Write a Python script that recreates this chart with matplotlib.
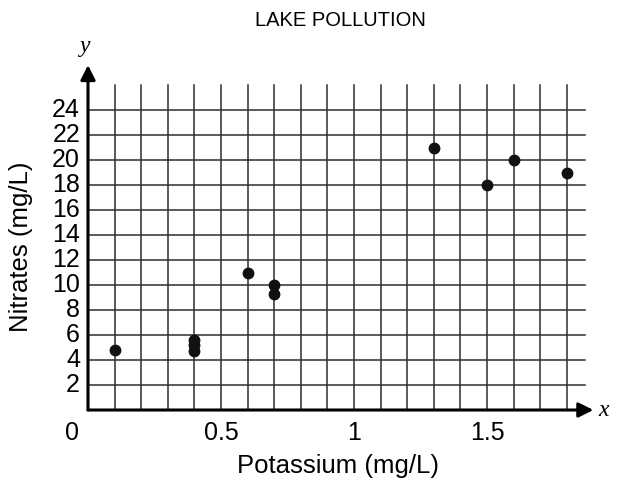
import matplotlib
matplotlib.use("Agg")
import matplotlib.pyplot as plt

potassium = [0.1, 0.4, 0.4, 0.4, 0.6, 0.7, 0.7, 1.3, 1.5, 1.6, 1.8]
nitrates = [4.8, 5.6, 5.2, 4.7, 11.0, 10.0, 9.3, 21.0, 18.0, 20.0, 19.0]
x_ticks = [0.5, 1.0, 1.5]
x_tick_labels = ["0.5", "1", "1.5"]
y_ticks = list(range(2, 25, 2))

plt.rcParams['font.family'] = ['Liberation Sans', 'DejaVu Sans']

W, H = 622, 480
fig = plt.figure(figsize=(W / 100, H / 100), dpi=100)
x0px, y0px = 88, 410
px_per_x = 266.0
px_per_y = 12.5
xmax, ymax = 1.95, 28.0
ax = fig.add_axes([x0px / W, (H - y0px) / H, xmax * px_per_x / W, ymax * px_per_y / H])
ax.set_xlim(0, xmax)
ax.set_ylim(0, ymax)
ax.axis('off')

gc = '#2e2e2e'
# vertical grid lines every 0.1
for i in range(1, 19):
    ax.plot([i / 10, i / 10], [0, 26], color=gc, lw=1.1, zorder=1)
# horizontal grid lines every 2
for yv in y_ticks:
    ax.plot([0, 1.87], [yv, yv], color=gc, lw=1.1, zorder=1)

# axes with arrows
ax.annotate('', xy=(1.90, 0), xytext=(0, 0),
            arrowprops=dict(arrowstyle='-|>', lw=2.2, color='black', mutation_scale=22,
                            shrinkA=0, shrinkB=0), annotation_clip=False, zorder=3)
ax.annotate('', xy=(0, 27.6), xytext=(0, 0),
            arrowprops=dict(arrowstyle='-|>', lw=2.2, color='black', mutation_scale=22,
                            shrinkA=0, shrinkB=0), annotation_clip=False, zorder=3)

ax.plot(potassium, nitrates, 'o', color='#111111', markersize=7.5, zorder=4, clip_on=False)

tfs = 18
for yv in y_ticks:
    ax.text(-0.03, yv, str(yv), ha='right', va='center', fontsize=tfs, clip_on=False)
for xv, lab in zip(x_ticks, x_tick_labels):
    ax.text(xv, -1.8, lab, ha='center', va='center', fontsize=tfs, clip_on=False)
ax.text(-0.06, -1.8, "0", ha='center', va='center', fontsize=tfs, clip_on=False)

ax.text(1.92, 0, "x", ha='left', va='center', fontsize=17, style='italic',
        family=['Liberation Serif', 'DejaVu Serif'], clip_on=False)
ax.text(-0.01, 29.1, "y", ha='center', va='center', fontsize=17, style='italic',
        family=['Liberation Serif', 'DejaVu Serif'], clip_on=False)

fig.text(340 / W, 1 - 21 / H, "LAKE POLLUTION", ha='center', va='center', fontsize=14.5)
fig.text(338 / W, 1 - 466 / H, "Potassium (mg/L)", ha='center', va='center', fontsize=18.5)
fig.text(21 / W, 1 - 247 / H, "Nitrates (mg/L)", ha='center', va='center', fontsize=18.5,
         rotation=90)

fig.savefig("out.png", dpi=100)
